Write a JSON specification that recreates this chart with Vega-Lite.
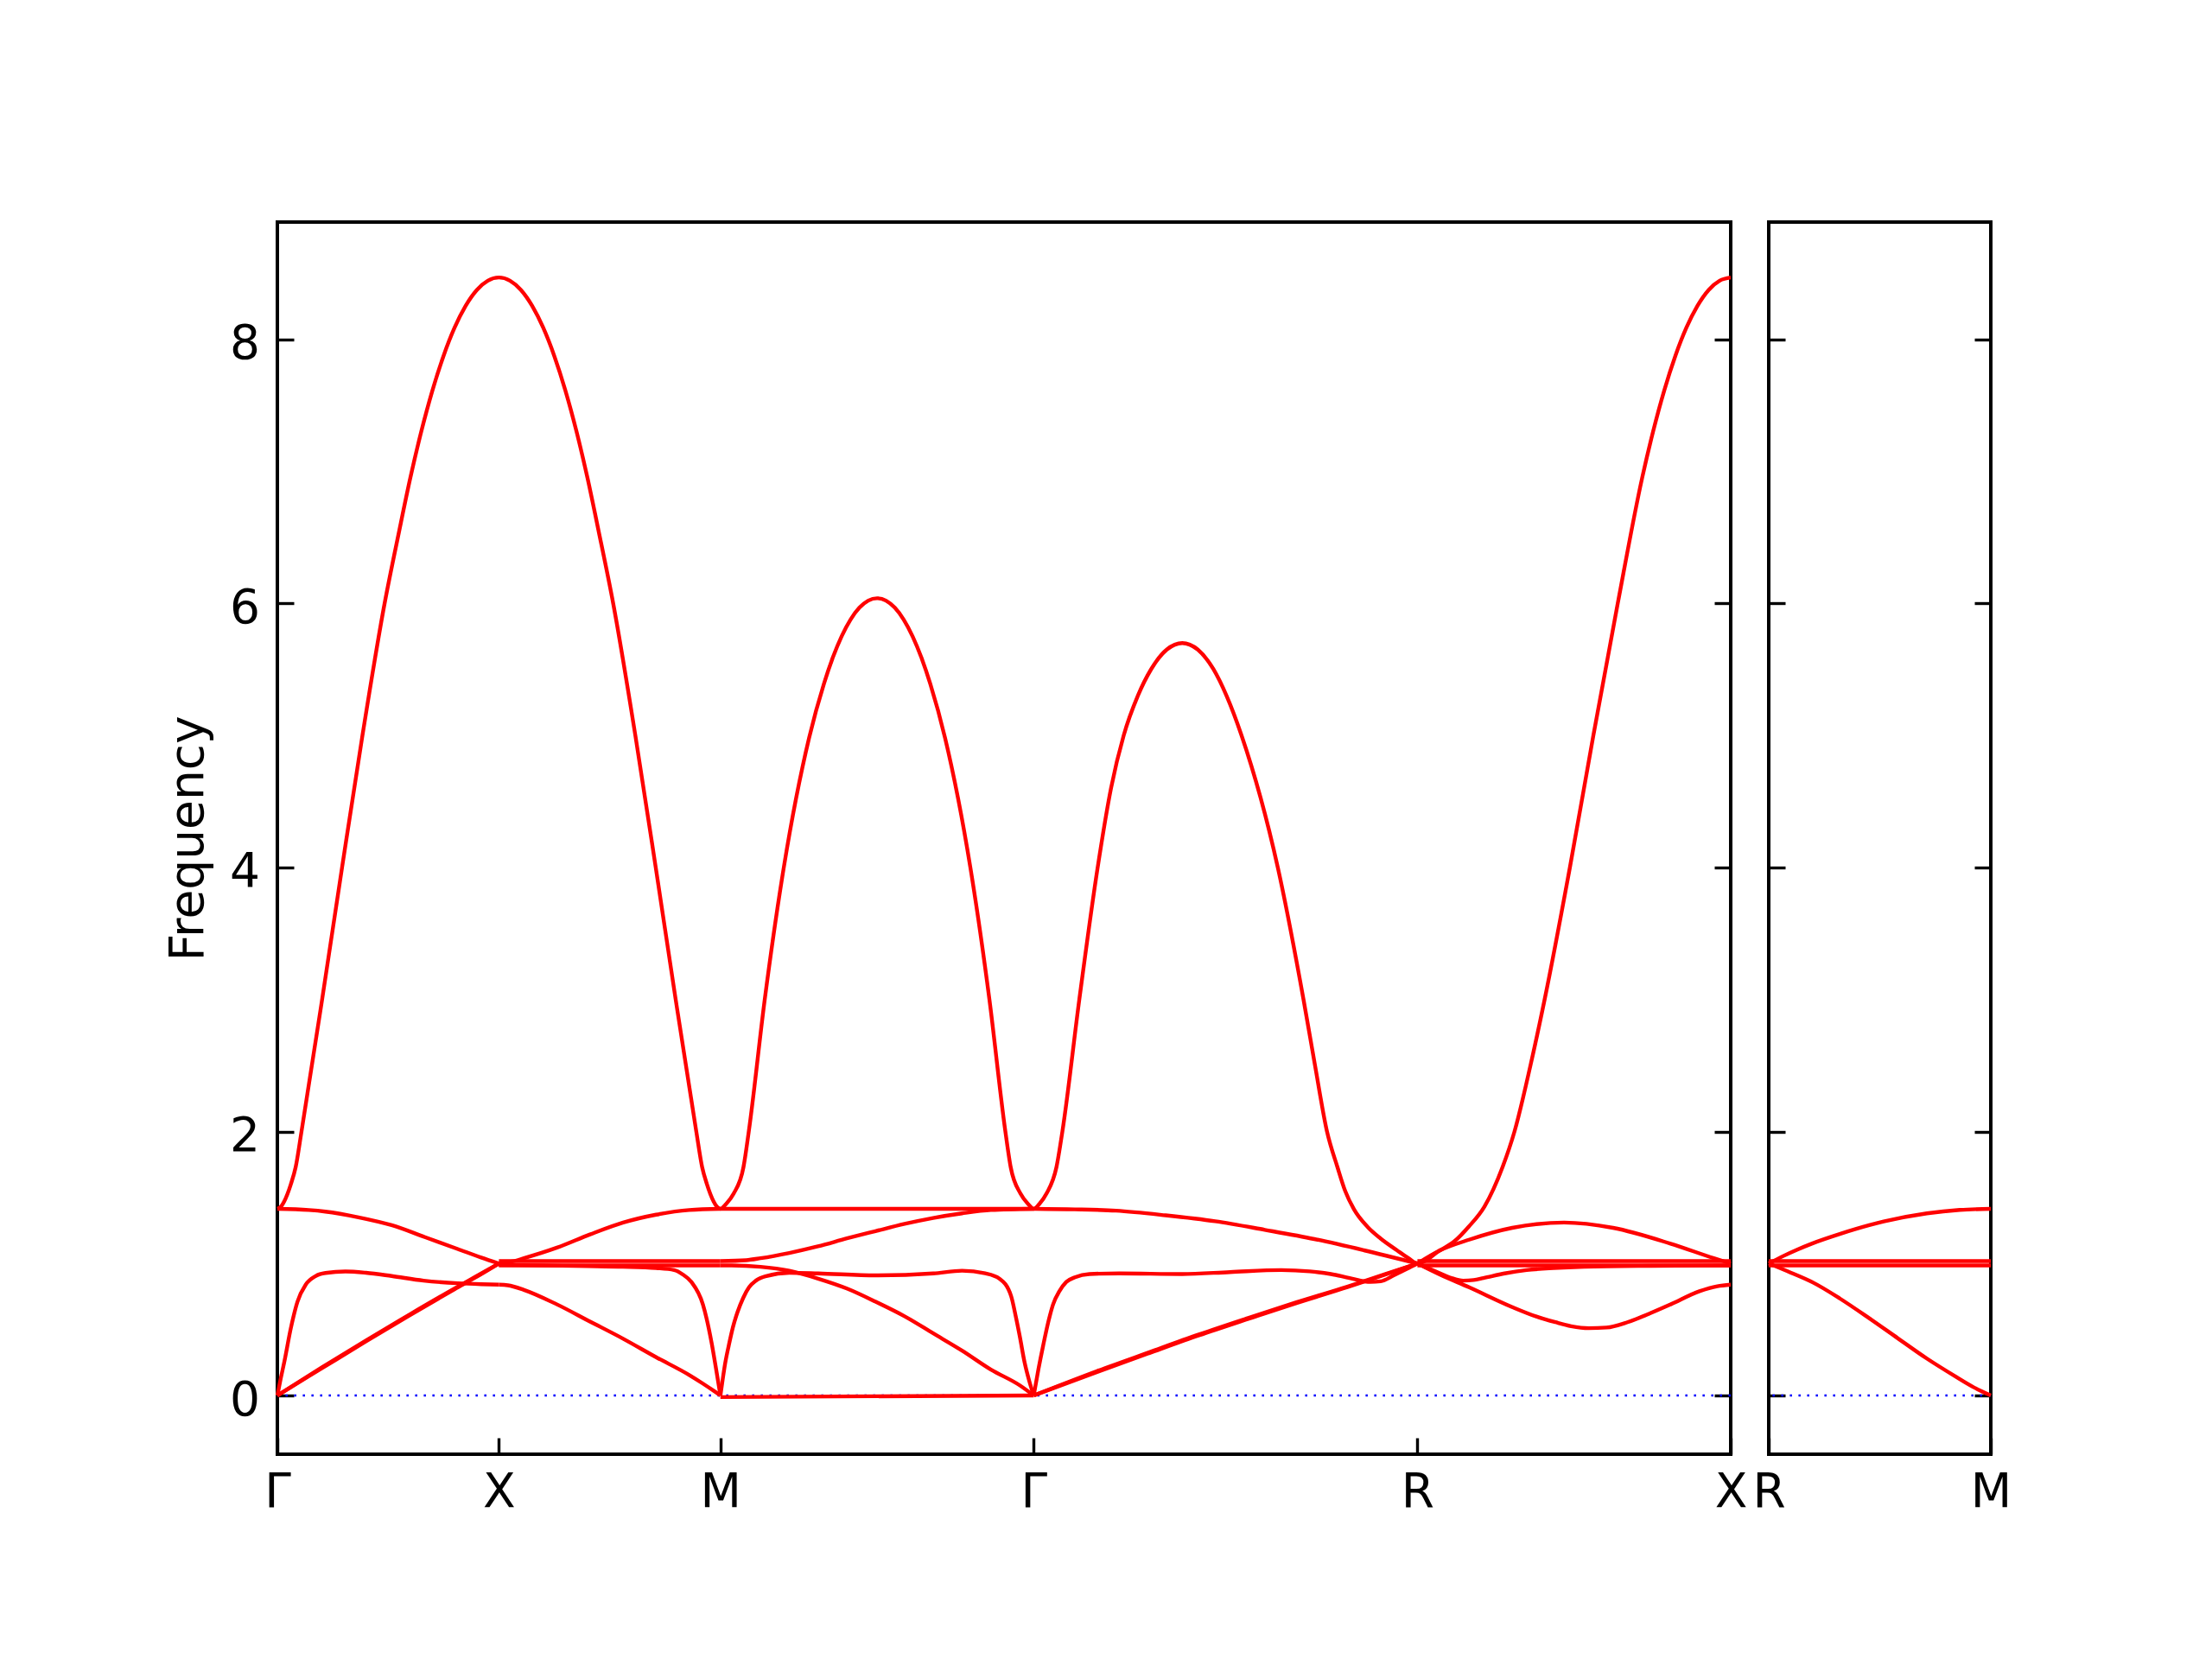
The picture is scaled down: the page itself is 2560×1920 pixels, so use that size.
{
  "$schema": "https://vega.github.io/schema/vega-lite/v6.json",
  "padding": {"left": 188, "top": 255, "right": 5, "bottom": 5},
  "background": "white",
  "bounds": "flush",
  "spacing": 44,
  "config": {
    "view": {"stroke": "black", "strokeWidth": 4},
    "axis": {
      "labelFont": "DejaVu Sans", "titleFont": "DejaVu Sans",
      "labelFontSize": 55, "titleFontSize": 55,
      "labelColor": "black", "titleColor": "black",
      "tickColor": "black", "tickWidth": 3.4, "tickSize": -19,
      "domain": false, "grid": false, "titleFontWeight": "normal",
      "labelFlush": false, "labelOverlap": false, "labelBound": false
    }
  },
  "datasets": {
    "zero": [{"f": 0}],
    "main": [
      {"s":"hi","x":0,"y":1.414},{"s":"hi","x":0.008,"y":1.43},{"s":"hi","x":0.0154,"y":1.47},{"s":"hi","x":0.0304,"y":1.6},{"s":"hi","x":0.0413,"y":1.73},{"s":"hi","x":0.0545,"y":2.0},{"s":"hi","x":0.101,"y":3.0},{"s":"hi","x":0.146,"y":4.0},{"s":"hi","x":0.192,"y":5.0},{"s":"hi","x":0.242,"y":6.0},{"s":"hi","x":0.275,"y":6.55},{"s":"hi","x":0.3,"y":6.95},{"s":"hi","x":0.325,"y":7.306},{"s":"hi","x":0.35,"y":7.615},{"s":"hi","x":0.375,"y":7.876},{"s":"hi","x":0.4,"y":8.09},{"s":"hi","x":0.425,"y":8.256},{"s":"hi","x":0.45,"y":8.375},{"s":"hi","x":0.475,"y":8.446},{"s":"hi","x":0.5,"y":8.47},
      {"s":"hi","x":0.525,"y":8.446},{"s":"hi","x":0.55,"y":8.375},{"s":"hi","x":0.575,"y":8.256},{"s":"hi","x":0.6,"y":8.09},{"s":"hi","x":0.625,"y":7.876},{"s":"hi","x":0.65,"y":7.615},{"s":"hi","x":0.675,"y":7.306},{"s":"hi","x":0.7,"y":6.95},{"s":"hi","x":0.725,"y":6.55},{"s":"hi","x":0.758,"y":6.0},{"s":"hi","x":0.808,"y":5.0},{"s":"hi","x":0.854,"y":4.0},{"s":"hi","x":0.899,"y":3.0},{"s":"hi","x":0.9455,"y":2.0},{"s":"hi","x":0.9587,"y":1.73},{"s":"hi","x":0.9696,"y":1.6},{"s":"hi","x":0.9846,"y":1.47},{"s":"hi","x":0.992,"y":1.43},{"s":"hi","x":1.0,"y":1.414},
      {"s":"hi","x":1.0125,"y":1.45},{"s":"hi","x":1.03,"y":1.53},{"s":"hi","x":1.052,"y":1.73},{"s":"hi","x":1.064,"y":2.0},{"s":"hi","x":1.1,"y":3.0},{"s":"hi","x":1.143,"y":4.0},{"s":"hi","x":1.2,"y":4.98},{"s":"hi","x":1.2336,"y":5.392},{"s":"hi","x":1.2536,"y":5.59},{"s":"hi","x":1.2736,"y":5.752},{"s":"hi","x":1.2936,"y":5.878},{"s":"hi","x":1.3136,"y":5.968},{"s":"hi","x":1.3336,"y":6.022},{"s":"hi","x":1.3536,"y":6.04},{"s":"hi","x":1.3736,"y":6.022},{"s":"hi","x":1.3936,"y":5.968},{"s":"hi","x":1.4136,"y":5.878},{"s":"hi","x":1.4336,"y":5.752},{"s":"hi","x":1.4536,"y":5.59},{"s":"hi","x":1.4736,"y":5.392},{"s":"hi","x":1.5071,"y":4.98},{"s":"hi","x":1.5641,"y":4.0},{"s":"hi","x":1.6071,"y":3.0},{"s":"hi","x":1.6431,"y":2.0},{"s":"hi","x":1.6551,"y":1.73},{"s":"hi","x":1.6771,"y":1.53},{"s":"hi","x":1.6946,"y":1.45},{"s":"hi","x":1.7071,"y":1.414},
      {"s":"hi","x":1.7196,"y":1.45},{"s":"hi","x":1.736,"y":1.53},{"s":"hi","x":1.7584,"y":1.73},{"s":"hi","x":1.7718,"y":2.0},{"s":"hi","x":1.81,"y":3.0},{"s":"hi","x":1.8514,"y":4.0},{"s":"hi","x":1.8815,"y":4.6},{"s":"hi","x":1.9101,"y":5.0},{"s":"hi","x":1.942,"y":5.3},{"s":"hi","x":1.9724,"y":5.504},{"s":"hi","x":2.0074,"y":5.651},{"s":"hi","x":2.0254,"y":5.688},{"s":"hi","x":2.0424,"y":5.7},{"s":"hi","x":2.0594,"y":5.688},{"s":"hi","x":2.0774,"y":5.651},{"s":"hi","x":2.1124,"y":5.504},{"s":"hi","x":2.1424,"y":5.3},{"s":"hi","x":2.1762,"y":5.0},{"s":"hi","x":2.258,"y":4.0},{"s":"hi","x":2.316,"y":3.0},{"s":"hi","x":2.342,"y":2.5},{"s":"hi","x":2.369,"y":2.0},{"s":"hi","x":2.3926,"y":1.73},{"s":"hi","x":2.41,"y":1.55},{"s":"hi","x":2.43,"y":1.41},{"s":"hi","x":2.4598,"y":1.28},{"s":"hi","x":2.4897,"y":1.19},{"s":"hi","x":2.527,"y":1.1},{"s":"hi","x":2.553,"y":1.04},{"s":"hi","x":2.5731,"y":1.0},
      {"s":"hi","x":2.6242,"y":1.1},{"s":"hi","x":2.6572,"y":1.17},{"s":"hi","x":2.6892,"y":1.28},{"s":"hi","x":2.7242,"y":1.43},{"s":"hi","x":2.7652,"y":1.73},{"s":"hi","x":2.7922,"y":2.0},{"s":"hi","x":2.8282,"y":2.5},{"s":"hi","x":2.8602,"y":3.0},{"s":"hi","x":2.9172,"y":4.0},{"s":"hi","x":2.9702,"y":5.0},{"s":"hi","x":3.0252,"y":6.0},{"s":"hi","x":3.0802,"y":6.95},{"s":"hi","x":3.1052,"y":7.306},{"s":"hi","x":3.1302,"y":7.615},{"s":"hi","x":3.1552,"y":7.876},{"s":"hi","x":3.1802,"y":8.09},{"s":"hi","x":3.2052,"y":8.256},{"s":"hi","x":3.2302,"y":8.375},{"s":"hi","x":3.2552,"y":8.446},{"s":"hi","x":3.2802,"y":8.47},

      {"s":"a1","x":0,"y":1.414},{"s":"a1","x":0.071,"y":1.405},{"s":"a1","x":0.1086,"y":1.393},{"s":"a1","x":0.183,"y":1.35},{"s":"a1","x":0.258,"y":1.29},{"s":"a1","x":0.333,"y":1.2},{"s":"a1","x":0.407,"y":1.11},{"s":"a1","x":0.46,"y":1.045},{"s":"a1","x":0.5,"y":1.0},
      {"s":"b1","x":0,"y":0},{"s":"b1","x":0.1,"y":0.205},{"s":"b1","x":0.2,"y":0.41},{"s":"b1","x":0.3,"y":0.61},{"s":"b1","x":0.4,"y":0.805},{"s":"b1","x":0.45,"y":0.9},{"s":"b1","x":0.5,"y":1.0},
      {"s":"b1d","x":0,"y":0},{"s":"b1d","x":0.1,"y":0.212},{"s":"b1d","x":0.2,"y":0.417},{"s":"b1d","x":0.3,"y":0.617},{"s":"b1d","x":0.4,"y":0.811},{"s":"b1d","x":0.45,"y":0.905},{"s":"b1d","x":0.5,"y":1.0},
      {"s":"c1","x":0,"y":0},{"s":"c1","x":0.0077,"y":0.13},{"s":"c1","x":0.0154,"y":0.25},{"s":"c1","x":0.0304,"y":0.51},{"s":"c1","x":0.0453,"y":0.71},{"s":"c1","x":0.064,"y":0.84},{"s":"c1","x":0.0864,"y":0.905},{"s":"c1","x":0.1086,"y":0.928},{"s":"c1","x":0.1535,"y":0.94},{"s":"c1","x":0.2,"y":0.93},{"s":"c1","x":0.258,"y":0.905},{"s":"c1","x":0.33,"y":0.87},{"s":"c1","x":0.4072,"y":0.85},{"s":"c1","x":0.46,"y":0.843},{"s":"c1","x":0.5,"y":0.84},

      {"s":"a2","x":0.5,"y":1.0},{"s":"a2","x":0.53,"y":1.015},{"s":"a2","x":0.5565,"y":1.04},{"s":"a2","x":0.6311,"y":1.12},{"s":"a2","x":0.7057,"y":1.22},{"s":"a2","x":0.7804,"y":1.31},{"s":"a2","x":0.855,"y":1.37},{"s":"a2","x":0.9296,"y":1.405},{"s":"a2","x":1.0,"y":1.414},
      {"s":"t1a","x":0.5,"y":1.018},{"s":"t1a","x":1.0,"y":1.018},
      {"s":"t2a","x":0.5,"y":0.985},{"s":"t2a","x":1.0,"y":0.985},
      {"s":"b2","x":0.5,"y":0.99},{"s":"b2","x":0.6,"y":0.985},{"s":"b2","x":0.7,"y":0.98},{"s":"b2","x":0.78,"y":0.975},{"s":"b2","x":0.855,"y":0.965},{"s":"b2","x":0.8955,"y":0.95},{"s":"b2","x":0.915,"y":0.917},{"s":"b2","x":0.9345,"y":0.86},{"s":"b2","x":0.9604,"y":0.69},{"s":"b2","x":0.98,"y":0.4},{"s":"b2","x":0.9897,"y":0.21},{"s":"b2","x":1.0,"y":0},
      {"s":"c2","x":0.5,"y":0.84},{"s":"c2","x":0.52,"y":0.835},{"s":"c2","x":0.5565,"y":0.8},{"s":"c2","x":0.6311,"y":0.69},{"s":"c2","x":0.7057,"y":0.56},{"s":"c2","x":0.7804,"y":0.43},{"s":"c2","x":0.855,"y":0.29},{"s":"c2","x":0.9296,"y":0.155},{"s":"c2","x":0.9604,"y":0.09},{"s":"c2","x":0.985,"y":0.035},{"s":"c2","x":1.0,"y":0},

      {"s":"f3","x":1.0,"y":1.414},{"s":"f3","x":1.7071,"y":1.414},
      {"s":"a3","x":1.0,"y":1.018},{"s":"a3","x":1.058,"y":1.025},{"s":"a3","x":1.0905,"y":1.04},{"s":"a3","x":1.1554,"y":1.08},{"s":"a3","x":1.22,"y":1.13},{"s":"a3","x":1.2855,"y":1.19},{"s":"a3","x":1.35,"y":1.245},{"s":"a3","x":1.4156,"y":1.3},{"s":"a3","x":1.48,"y":1.345},{"s":"a3","x":1.5454,"y":1.38},{"s":"a3","x":1.6106,"y":1.405},{"s":"a3","x":1.7071,"y":1.414},
      {"s":"d3","x":1.0,"y":0.985},{"s":"d3","x":1.0255,"y":0.985},{"s":"d3","x":1.0905,"y":0.975},{"s":"d3","x":1.1554,"y":0.945},{"s":"d3","x":1.2205,"y":0.885},{"s":"d3","x":1.2855,"y":0.81},{"s":"d3","x":1.3504,"y":0.71},{"s":"d3","x":1.4156,"y":0.6},{"s":"d3","x":1.4805,"y":0.47},{"s":"d3","x":1.5454,"y":0.34},{"s":"d3","x":1.6106,"y":0.196},{"s":"d3","x":1.6755,"y":0.077},{"s":"d3","x":1.7071,"y":0},
      {"s":"p3","x":1.0,"y":0},{"s":"p3","x":1.005,"y":0.12},{"s":"p3","x":1.0105,"y":0.24},{"s":"p3","x":1.0189,"y":0.38},{"s":"p3","x":1.0284,"y":0.52},{"s":"p3","x":1.0384,"y":0.63},{"s":"p3","x":1.0515,"y":0.74},{"s":"p3","x":1.0646,"y":0.82},{"s":"p3","x":1.08,"y":0.87},{"s":"p3","x":1.1036,"y":0.905},{"s":"p3","x":1.1554,"y":0.93},{"s":"p3","x":1.2205,"y":0.925},{"s":"p3","x":1.3504,"y":0.91},{"s":"p3","x":1.4805,"y":0.925},{"s":"p3","x":1.5454,"y":0.945},{"s":"p3","x":1.5975,"y":0.925},{"s":"p3","x":1.6301,"y":0.884},{"s":"p3","x":1.656,"y":0.754},{"s":"p3","x":1.6665,"y":0.6},{"s":"p3","x":1.6755,"y":0.45},{"s":"p3","x":1.6865,"y":0.25},{"s":"p3","x":1.697,"y":0.11},{"s":"p3","x":1.7071,"y":0},
      {"s":"z3","x":1.0,"y":-0.012},{"s":"z3","x":1.7071,"y":0},

      {"s":"a4","x":1.7071,"y":1.414},{"s":"a4","x":1.8,"y":1.41},{"s":"a4","x":1.8928,"y":1.4},{"s":"a4","x":2.0047,"y":1.365},{"s":"a4","x":2.1166,"y":1.32},{"s":"a4","x":2.2286,"y":1.255},{"s":"a4","x":2.3405,"y":1.185},{"s":"a4","x":2.4524,"y":1.1},{"s":"a4","x":2.5731,"y":1.0},
      {"s":"b4","x":1.7071,"y":0},{"s":"b4","x":1.85,"y":0.178},{"s":"b4","x":1.9672,"y":0.32},{"s":"b4","x":2.08,"y":0.455},{"s":"b4","x":2.1911,"y":0.58},{"s":"b4","x":2.3,"y":0.7},{"s":"b4","x":2.4149,"y":0.82},{"s":"b4","x":2.5,"y":0.915},{"s":"b4","x":2.5731,"y":1.0},
      {"s":"b4d","x":1.7071,"y":0},{"s":"b4d","x":1.85,"y":0.185},{"s":"b4d","x":1.9672,"y":0.327},{"s":"b4d","x":2.08,"y":0.462},{"s":"b4d","x":2.1911,"y":0.587},{"s":"b4d","x":2.3,"y":0.706},{"s":"b4d","x":2.4149,"y":0.825},{"s":"b4d","x":2.5,"y":0.919},{"s":"b4d","x":2.5731,"y":1.0},
      {"s":"p4","x":1.7071,"y":0},{"s":"p4","x":1.7178,"y":0.2},{"s":"p4","x":1.7285,"y":0.38},{"s":"p4","x":1.7395,"y":0.55},{"s":"p4","x":1.7508,"y":0.69},{"s":"p4","x":1.765,"y":0.79},{"s":"p4","x":1.7806,"y":0.86},{"s":"p4","x":1.8,"y":0.895},{"s":"p4","x":1.8329,"y":0.92},{"s":"p4","x":1.9,"y":0.925},{"s":"p4","x":2.0419,"y":0.92},{"s":"p4","x":2.15,"y":0.935},{"s":"p4","x":2.2658,"y":0.95},{"s":"p4","x":2.33,"y":0.94},{"s":"p4","x":2.3778,"y":0.92},{"s":"p4","x":2.42,"y":0.89},{"s":"p4","x":2.4673,"y":0.86},{"s":"p4","x":2.49,"y":0.865},{"s":"p4","x":2.5195,"y":0.91},{"s":"p4","x":2.55,"y":0.96},{"s":"p4","x":2.5731,"y":1.0},

      {"s":"h5","x":2.5731,"y":1.0},{"s":"h5","x":2.6246,"y":1.1},{"s":"h5","x":2.6896,"y":1.18},{"s":"h5","x":2.7871,"y":1.27},{"s":"h5","x":2.9041,"y":1.31},{"s":"h5","x":3.0146,"y":1.27},{"s":"h5","x":3.1445,"y":1.15},{"s":"h5","x":3.242,"y":1.04},{"s":"h5","x":3.2802,"y":1.0},
      {"s":"d5","x":2.5731,"y":1.0},{"s":"d5","x":2.6246,"y":0.915},{"s":"d5","x":2.6896,"y":0.82},{"s":"d5","x":2.7871,"y":0.67},{"s":"d5","x":2.84,"y":0.6},{"s":"d5","x":2.8846,"y":0.555},{"s":"d5","x":2.92,"y":0.525},{"s":"d5","x":2.96,"y":0.51},{"s":"d5","x":3.0,"y":0.515},{"s":"d5","x":3.0471,"y":0.555},{"s":"d5","x":3.1,"y":0.625},{"s":"d5","x":3.1445,"y":0.69},{"s":"d5","x":3.2096,"y":0.79},{"s":"d5","x":3.25,"y":0.828},{"s":"d5","x":3.2802,"y":0.84},
      {"s":"s5","x":2.5731,"y":1.0},{"s":"s5","x":2.6,"y":0.96},{"s":"s5","x":2.6246,"y":0.925},{"s":"s5","x":2.65,"y":0.89},{"s":"s5","x":2.6766,"y":0.87},{"s":"s5","x":2.7,"y":0.875},{"s":"s5","x":2.7221,"y":0.89},{"s":"s5","x":2.77,"y":0.925},{"s":"s5","x":2.8196,"y":0.95},{"s":"s5","x":2.88,"y":0.965},{"s":"s5","x":2.9496,"y":0.975},{"s":"s5","x":3.1,"y":0.982},{"s":"s5","x":3.2802,"y":0.985},
      {"s":"t1b","x":2.5731,"y":1.018},{"s":"t1b","x":3.2802,"y":1.018},
      {"s":"t2b","x":2.5731,"y":0.985},{"s":"t2b","x":3.2802,"y":0.985}
    ],
    "side": [
      {"s":"r6","x":0,"y":1.0},{"s":"r6","x":0.0318,"y":1.055},{"s":"r6","x":0.0642,"y":1.105},{"s":"r6","x":0.0967,"y":1.15},{"s":"r6","x":0.1615,"y":1.225},{"s":"r6","x":0.2263,"y":1.29},{"s":"r6","x":0.2588,"y":1.318},{"s":"r6","x":0.356,"y":1.38},{"s":"r6","x":0.43,"y":1.406},{"s":"r6","x":0.5,"y":1.414},
      {"s":"q6","x":0,"y":1.0},{"s":"q6","x":0.05,"y":0.93},{"s":"q6","x":0.1,"y":0.855},{"s":"q6","x":0.16,"y":0.735},{"s":"q6","x":0.2263,"y":0.585},{"s":"q6","x":0.29,"y":0.435},{"s":"q6","x":0.356,"y":0.28},{"s":"q6","x":0.42,"y":0.145},{"s":"q6","x":0.46,"y":0.065},{"s":"q6","x":0.5,"y":0.0},
      {"s":"t1","x":0,"y":1.018},{"s":"t1","x":0.5,"y":1.018},
      {"s":"t2","x":0,"y":0.985},{"s":"t2","x":0.5,"y":0.985}
    ]
  },
  "hconcat": [
    {
      "width": 1682,
      "height": 1426,
      "layer": [
        {
          "data": {"name": "zero"},
          "mark": {"type": "rule", "color": "#0000ff", "strokeWidth": 2.4, "strokeDash": [2.6, 7.4]},
          "encoding": {
            "y": {"field": "f", "type": "quantitative",
                  "scale": {"domain": [-0.445, 8.89], "nice": false, "zero": false},
                  "axis": {"orient": "right", "values": [0, 2, 4, 6, 8], "labels": false, "title": null}}
          }
        },
        {
          "data": {"name": "main"},
          "mark": {"type": "line", "color": "#ff0000", "strokeWidth": 4.4, "interpolate": "monotone"},
          "encoding": {
            "x": {"field": "x", "type": "quantitative",
                  "scale": {"domain": [0, 3.2802], "nice": false, "zero": false},
                  "axis": {"values": [0, 0.5, 1.0, 1.7071, 2.5731, 3.2802],
                           "labelExpr": "datum.value < 0.25 ? 'Γ' : datum.value < 0.75 ? 'X' : datum.value < 1.3 ? 'M' : datum.value < 2.1 ? 'Γ' : datum.value < 3 ? 'R' : 'X'",
                           "title": null, "labelPadding": 36}},
            "y": {"field": "y", "type": "quantitative",
                  "scale": {"domain": [-0.445, 8.89], "nice": false, "zero": false},
                  "axis": {"orient": "left", "values": [0, 2, 4, 6, 8], "title": "Frequency",
                           "labelPadding": 39.5, "titlePadding": 19, "labelOffset": 5}},
            "detail": {"field": "s"}
          }
        }
      ],
      "resolve": {"axis": {"y": "independent"}}
    },
    {
      "width": 257,
      "height": 1426,
      "layer": [
        {
          "data": {"name": "zero"},
          "mark": {"type": "rule", "color": "#0000ff", "strokeWidth": 2.4, "strokeDash": [2.6, 7.4]},
          "encoding": {
            "y": {"field": "f", "type": "quantitative",
                  "scale": {"domain": [-0.445, 8.89], "nice": false, "zero": false},
                  "axis": {"orient": "right", "values": [0, 2, 4, 6, 8], "labels": false, "title": null}}
          }
        },
        {
          "data": {"name": "side"},
          "mark": {"type": "line", "color": "#ff0000", "strokeWidth": 4.4, "interpolate": "monotone"},
          "encoding": {
            "x": {"field": "x", "type": "quantitative",
                  "scale": {"domain": [0, 0.5], "nice": false, "zero": false},
                  "axis": {"values": [0, 0.5],
                           "labelExpr": "datum.value < 0.25 ? 'R' : 'M'",
                           "title": null, "labelPadding": 36}},
            "y": {"field": "y", "type": "quantitative",
                  "scale": {"domain": [-0.445, 8.89], "nice": false, "zero": false},
                  "axis": {"orient": "left", "values": [0, 2, 4, 6, 8], "labels": false, "title": null}},
            "detail": {"field": "s"}
          }
        }
      ],
      "resolve": {"axis": {"y": "independent"}}
    }
  ]
}
